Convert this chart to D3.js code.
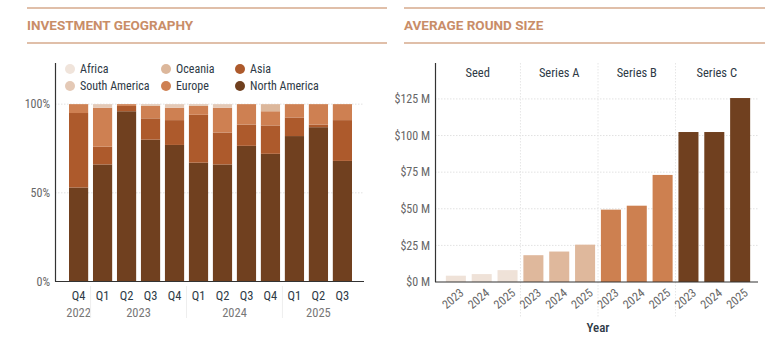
<!DOCTYPE html>
<html>
<head>
<meta charset="utf-8">
<script src="https://cdn.jsdelivr.net/npm/d3@7"></script>
<style>
  body { margin: 0; background: #fff; }
  svg text { font-family: "Roboto Condensed", "Liberation Sans Narrow", "DejaVu Sans Condensed", Roboto, sans-serif; }
  .title { font-family: Roboto, sans-serif !important; font-weight: 700; font-size: 13.5px; fill: #c98d68; }
</style>
</head>
<body>
<script>
// ---- data: investment geography (share of deals per quarter)
const quarters = ["Q4", "Q1", "Q2", "Q3", "Q4", "Q1", "Q2", "Q3", "Q4", "Q1", "Q2", "Q3"];
const quarterYears = ["2022", "2023", "2023", "2023", "2023", "2024", "2024", "2024", "2024", "2025", "2025", "2025"];
const regions = ["North America", "Asia", "Europe", "Oceania", "South America", "Africa"];
const northAmerica = [53, 66, 96, 80, 77, 67, 66, 76.5, 72, 82, 87, 68];
const asia = [42, 10, 3, 12, 14, 27, 18, 12, 16, 10.5, 1.5, 23];
const europe = [5, 22, 1, 7, 7, 5, 14, 11.5, 8, 7.5, 11.5, 9];
const oceania = [0, 0, 0, 0, 0, 0, 0, 0, 4, 0, 0, 0];
const southAmerica = [0, 2, 0, 1, 2, 1, 2, 0, 0, 0, 0, 0];
const africa = [0, 0, 0, 0, 0, 0, 0, 0, 0, 0, 0, 0];
const legendOrder = ["Africa", "Oceania", "Asia", "South America", "Europe", "North America"];
const geoTicks = [0, 0.5, 1];

// ---- data: average round size ($M)
const stages = ["Seed", "Series A", "Series B", "Series C"];
const years = ["2023", "2024", "2025"];
const seedSize = [4.3, 5.4, 8.1];
const seriesASize = [18.3, 20.8, 25.5];
const seriesBSize = [49.4, 52.1, 73.1];
const seriesCSize = [102.4, 102.4, 125.6];
const sizeTicks = [0, 25, 50, 75, 100, 125];

const regionColor = d3.scaleOrdinal()
  .domain(["Africa", "South America", "Oceania", "Europe", "Asia", "North America"])
  .range(["#f0e4db", "#e4c9b6", "#dcb79b", "#ce8052", "#ad5a2c", "#70401f"]);
const stageColor = d3.scaleOrdinal().domain(stages)
  .range(["#efe2d8", "#dfb89c", "#cd8050", "#70401f"]);

const W = 780, H = 337;
const svg = d3.select("body").append("svg").attr("width", W).attr("height", H);

const ink = "#2e3a46", grey = "#666", rule = "#d6aa8d";

// headers
function header(x0, x1, label) {
  svg.append("line").attr("x1", x0).attr("x2", x1).attr("y1", 8).attr("y2", 8)
    .attr("stroke", rule).attr("stroke-width", 1.5);
  svg.append("line").attr("x1", x0).attr("x2", x1).attr("y1", 43).attr("y2", 43)
    .attr("stroke", rule).attr("stroke-width", 1.5);
  svg.append("text").attr("class", "title").attr("x", x0).attr("y", 30).text(label);
}
header(27, 387, "INVESTMENT GEOGRAPHY");
header(404, 765, "AVERAGE ROUND SIZE");

// ================= left chart =================
const geoRows = quarters.map((q, i) => ({
  key: i,
  "North America": northAmerica[i] / 100,
  "Asia": asia[i] / 100,
  "Europe": europe[i] / 100,
  "Oceania": oceania[i] / 100,
  "South America": southAmerica[i] / 100,
  "Africa": africa[i] / 100
}));
const stacked = d3.stack().keys(regions)(geoRows);

const gx = d3.scaleBand().domain(d3.range(quarters.length)).range([66.6, 354.4]).paddingInner(0.2).paddingOuter(0.1);
const gy = d3.scaleLinear().domain([0, 1.232]).range([281.5, 63]);

const gl = svg.append("g");
gl.selectAll(".grid").data(geoTicks.filter(d => d > 0)).enter().append("line")
  .attr("x1", 55).attr("x2", 364).attr("y1", d => gy(d)).attr("y2", d => gy(d))
  .attr("stroke", "#e2e2e2").attr("stroke-dasharray", "1.5,1.5");

gl.selectAll(".layer").data(stacked).enter().append("g")
  .attr("fill", d => regionColor(d.key))
  .selectAll("rect").data(d => d).enter().append("rect")
  .attr("x", (d, i) => gx(i))
  .attr("width", gx.bandwidth())
  .attr("y", d => gy(d[1]))
  .attr("height", d => gy(d[0]) - gy(d[1]));

// axes lines
gl.append("line").attr("x1", 55.5).attr("x2", 55.5).attr("y1", 63).attr("y2", 281.5)
  .attr("stroke", "#333").attr("stroke-width", 1.2);
gl.append("line").attr("x1", 55).attr("x2", 364).attr("y1", 281.5).attr("y2", 281.5)
  .attr("stroke", "#333").attr("stroke-width", 1.2);
gl.selectAll(".ytick").data(geoTicks).enter().append("text")
  .attr("x", 50).attr("y", d => gy(d)).attr("dy", "0.35em").attr("text-anchor", "end")
  .attr("font-size", 12).attr("fill", grey).text(d3.format(".0%"));

// x labels: quarters and years
gl.selectAll(".qlab").data(quarters).enter().append("text")
  .attr("x", (d, i) => gx(i) + gx.bandwidth() / 2).attr("y", 300)
  .attr("text-anchor", "middle").attr("font-size", 12.5).attr("fill", ink).text(d => d);
const yearGroups = d3.groups(quarters.map((q, i) => ({ i, y: quarterYears[i] })), d => d.y);
yearGroups.forEach(([yr, items], k) => {
  const a = gx(items[0].i), b = gx(items[items.length - 1].i) + gx.bandwidth();
  gl.append("text").attr("x", (a + b) / 2).attr("y", 317).attr("text-anchor", "middle")
    .attr("font-size", 12.5).attr("fill", "#777").text(yr);
  if (k > 0) {
    const sx = a - (gx.step() - gx.bandwidth()) / 2;
    gl.append("line").attr("x1", sx).attr("x2", sx).attr("y1", 286).attr("y2", 318)
      .attr("stroke", "#eee");
  }
});

// legend
const leg = gl.selectAll(".leg").data(legendOrder).enter().append("g")
  .attr("transform", (d, i) => `translate(${[70, 166, 240][i % 3]},${i < 3 ? 69 : 86})`);
leg.append("circle").attr("r", 5).attr("fill", d => regionColor(d));
leg.append("text").attr("x", 10).attr("dy", "0.35em").attr("font-size", 12).attr("fill", ink).text(d => d);

// ================= right chart =================
const sizeRows = [];
[seedSize, seriesASize, seriesBSize, seriesCSize].forEach((vals, s) => {
  vals.forEach((v, j) => sizeRows.push({ stage: stages[s], year: years[j], value: v, key: s * 3 + j }));
});

const rx = d3.scaleBand().domain(sizeRows.map(d => d.key)).range([443, 753]).paddingInner(0.225).paddingOuter(0.11);
const ry = d3.scaleLinear().domain([0, 150]).range([282, 62.3]);

const gr = svg.append("g");
gr.selectAll(".grid").data(sizeTicks.filter(d => d > 0)).enter().append("line")
  .attr("x1", 435).attr("x2", 758).attr("y1", d => ry(d)).attr("y2", d => ry(d))
  .attr("stroke", "#e2e2e2").attr("stroke-dasharray", "1.5,1.5");

// facet separators and headers
const sepX = [435];
for (let s = 1; s < stages.length; s++) {
  const prev = rx(s * 3 - 1) + rx.bandwidth(), next = rx(s * 3);
  sepX.push((prev + next) / 2);
}
sepX.push(758);
gr.selectAll(".sep").data(sepX.slice(1, -1)).enter().append("line")
  .attr("x1", d => d).attr("x2", d => d).attr("y1", 63).attr("y2", 318)
  .attr("stroke", "#e6e6e6").attr("stroke-dasharray", "1.5,1.5");
gr.selectAll(".facet").data(stages).enter().append("text")
  .attr("x", (d, i) => (sepX[i] + sepX[i + 1]) / 2).attr("y", 73).attr("dy", "0.35em")
  .attr("text-anchor", "middle").attr("font-size", 12.5).attr("fill", ink).text(d => d);

gr.selectAll(".bar").data(sizeRows).enter().append("rect")
  .attr("x", d => rx(d.key)).attr("width", rx.bandwidth())
  .attr("y", d => ry(d.value)).attr("height", d => ry(0) - ry(d.value))
  .attr("fill", d => stageColor(d.stage));

gr.append("line").attr("x1", 435.5).attr("x2", 435.5).attr("y1", 63).attr("y2", 282)
  .attr("stroke", "#333").attr("stroke-width", 1.2);
gr.append("line").attr("x1", 435).attr("x2", 758).attr("y1", 282).attr("y2", 282)
  .attr("stroke", "#333").attr("stroke-width", 1.2);
gr.selectAll(".ytick").data(sizeTicks).enter().append("text")
  .attr("x", 430).attr("y", d => ry(d)).attr("dy", "0.35em").attr("text-anchor", "end")
  .attr("font-size", 12).attr("fill", grey).text(d => `$${d} M`);

gr.selectAll(".xlab").data(sizeRows).enter().append("text")
  .attr("transform", d => `translate(${rx(d.key) + rx.bandwidth() / 2 + 6},${291}) rotate(-40)`)
  .attr("dy", "0.35em").attr("text-anchor", "end")
  .attr("font-size", 12).attr("fill", grey).text(d => d.year);

gr.append("text").attr("x", 598).attr("y", 332).attr("text-anchor", "middle")
  .attr("font-size", 13).attr("font-weight", 500).attr("fill", ink).text("Year");
</script>
</body>
</html>
